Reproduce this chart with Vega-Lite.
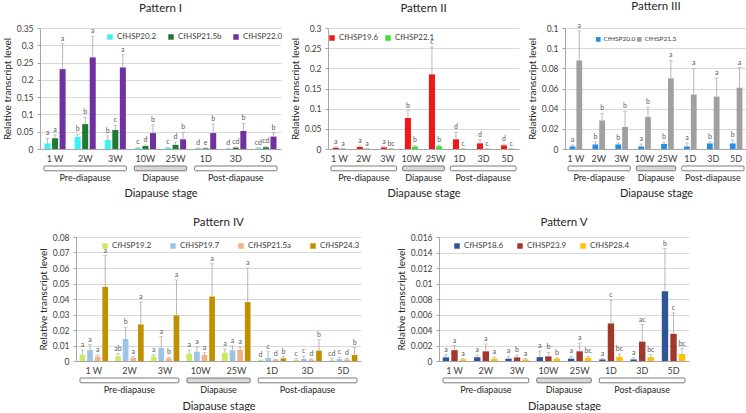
{
"$schema": "https://vega.github.io/schema/vega-lite/v6.json",
"background": "white",
"padding": {"left": 2, "top": 0, "right": 0, "bottom": 0},
"config": {
 "font": "Lato",
 "view": {"stroke": null},
 "axis": {"labelColor": "#404040", "titleColor": "#262626", "labelFont": "Lato", "titleFont": "Lato", "titleFontWeight": "normal", "labelFontSize": 8.5, "titleFontSize": 10},
 "axisY": {"labelOverlap": false},
 "title": {"font": "Lato", "fontWeight": "normal", "fontSize": 11.5, "color": "#262626", "offset": 7},
 "legend": {"labelFont": "Lato", "labelColor": "#404040", "labelFontSize": 8}
},
"columns": 1,
"align": "none",
"spacing": 18,
"resolve": {"scale": {"color": "independent", "xOffset": "independent", "x": "independent", "y": "independent"}, "legend": {"color": "independent"}},
"datasets": {
 "periods": [
  {"period": "Pre-diapause", "start": 0, "end": 3, "center": 1.5},
  {"period": "Diapause", "start": 3, "end": 5, "center": 4},
  {"period": "Post-diapause", "start": 5, "end": 8, "center": 6.5}
 ],
 "hsp": [
  {"pattern": "I", "stage": "1 W", "gene": "CfHSP20.2", "value": 0.016, "upper": 0.031, "letter": "a"},
  {"pattern": "I", "stage": "1 W", "gene": "CfHSP21.5b", "value": 0.031, "upper": 0.041, "letter": "a"},
  {"pattern": "I", "stage": "1 W", "gene": "CfHSP22.0", "value": 0.231, "upper": 0.305, "letter": "a"},
  {"pattern": "I", "stage": "2W", "gene": "CfHSP20.2", "value": 0.035, "upper": 0.042, "letter": "b"},
  {"pattern": "I", "stage": "2W", "gene": "CfHSP21.5b", "value": 0.072, "upper": 0.092, "letter": "b"},
  {"pattern": "I", "stage": "2W", "gene": "CfHSP22.0", "value": 0.265, "upper": 0.326, "letter": "a"},
  {"pattern": "I", "stage": "3W", "gene": "CfHSP20.2", "value": 0.026, "upper": 0.038, "letter": "b"},
  {"pattern": "I", "stage": "3W", "gene": "CfHSP21.5b", "value": 0.055, "upper": 0.068, "letter": "c"},
  {"pattern": "I", "stage": "3W", "gene": "CfHSP22.0", "value": 0.236, "upper": 0.273, "letter": "a"},
  {"pattern": "I", "stage": "10W", "gene": "CfHSP20.2", "value": 0.003, "upper": 0.005, "letter": "c"},
  {"pattern": "I", "stage": "10W", "gene": "CfHSP21.5b", "value": 0.0087, "upper": 0.012, "letter": "d"},
  {"pattern": "I", "stage": "10W", "gene": "CfHSP22.0", "value": 0.046, "upper": 0.07, "letter": "b"},
  {"pattern": "I", "stage": "25W", "gene": "CfHSP20.2", "value": 0.003, "upper": 0.005, "letter": "c"},
  {"pattern": "I", "stage": "25W", "gene": "CfHSP21.5b", "value": 0.012, "upper": 0.02, "letter": "d"},
  {"pattern": "I", "stage": "25W", "gene": "CfHSP22.0", "value": 0.028, "upper": 0.049, "letter": "b"},
  {"pattern": "I", "stage": "1D", "gene": "CfHSP20.2", "value": 0.002, "upper": 0.003, "letter": "d"},
  {"pattern": "I", "stage": "1D", "gene": "CfHSP21.5b", "value": 0.002, "upper": 0.003, "letter": "e"},
  {"pattern": "I", "stage": "1D", "gene": "CfHSP22.0", "value": 0.046, "upper": 0.072, "letter": "b"},
  {"pattern": "I", "stage": "3D", "gene": "CfHSP20.2", "value": 0.001, "upper": 0.002, "letter": "d"},
  {"pattern": "I", "stage": "3D", "gene": "CfHSP21.5b", "value": 0.004, "upper": 0.006, "letter": "cd"},
  {"pattern": "I", "stage": "3D", "gene": "CfHSP22.0", "value": 0.052, "upper": 0.074, "letter": "b"},
  {"pattern": "I", "stage": "5D", "gene": "CfHSP20.2", "value": 0.002, "upper": 0.004, "letter": "cd"},
  {"pattern": "I", "stage": "5D", "gene": "CfHSP21.5b", "value": 0.005, "upper": 0.008, "letter": "cd"},
  {"pattern": "I", "stage": "5D", "gene": "CfHSP22.0", "value": 0.036, "upper": 0.047, "letter": "b"},

  {"pattern": "II", "stage": "1 W", "gene": "CfHSP19.6", "value": 0.003, "upper": 0.005, "letter": "a"},
  {"pattern": "II", "stage": "1 W", "gene": "CfHSP22.1", "value": 0.0008, "upper": 0.001, "letter": "a"},
  {"pattern": "II", "stage": "2W", "gene": "CfHSP19.6", "value": 0.005, "upper": 0.008, "letter": "a"},
  {"pattern": "II", "stage": "2W", "gene": "CfHSP22.1", "value": 0.0008, "upper": 0.001, "letter": "a"},
  {"pattern": "II", "stage": "3W", "gene": "CfHSP19.6", "value": 0.004, "upper": 0.006, "letter": "a"},
  {"pattern": "II", "stage": "3W", "gene": "CfHSP22.1", "value": 0.0008, "upper": 0.001, "letter": "bc"},
  {"pattern": "II", "stage": "10W", "gene": "CfHSP19.6", "value": 0.077, "upper": 0.095, "letter": "b"},
  {"pattern": "II", "stage": "10W", "gene": "CfHSP22.1", "value": 0.006, "upper": 0.009, "letter": "b"},
  {"pattern": "II", "stage": "25W", "gene": "CfHSP19.6", "value": 0.185, "upper": 0.253, "letter": "c"},
  {"pattern": "II", "stage": "25W", "gene": "CfHSP22.1", "value": 0.007, "upper": 0.01, "letter": "b"},
  {"pattern": "II", "stage": "1D", "gene": "CfHSP19.6", "value": 0.024, "upper": 0.041, "letter": "d"},
  {"pattern": "II", "stage": "1D", "gene": "CfHSP22.1", "value": 0.0005, "upper": 0.0008, "letter": "c"},
  {"pattern": "II", "stage": "3D", "gene": "CfHSP19.6", "value": 0.014, "upper": 0.023, "letter": "d"},
  {"pattern": "II", "stage": "3D", "gene": "CfHSP22.1", "value": 0.0005, "upper": 0.0008, "letter": "c"},
  {"pattern": "II", "stage": "5D", "gene": "CfHSP19.6", "value": 0.009, "upper": 0.012, "letter": "d"},
  {"pattern": "II", "stage": "5D", "gene": "CfHSP22.1", "value": 0.0005, "upper": 0.0008, "letter": "c"},

  {"pattern": "III", "stage": "1 W", "gene": "CfHSP20.0", "value": 0.0026, "upper": 0.004, "letter": "a"},
  {"pattern": "III", "stage": "1 W", "gene": "CfHSP21.3", "value": 0.0878, "upper": 0.117, "letter": "a"},
  {"pattern": "III", "stage": "2W", "gene": "CfHSP20.0", "value": 0.0045, "upper": 0.007, "letter": "b"},
  {"pattern": "III", "stage": "2W", "gene": "CfHSP21.3", "value": 0.0283, "upper": 0.0354, "letter": "b"},
  {"pattern": "III", "stage": "3W", "gene": "CfHSP20.0", "value": 0.0045, "upper": 0.006, "letter": "b"},
  {"pattern": "III", "stage": "3W", "gene": "CfHSP21.3", "value": 0.0219, "upper": 0.0373, "letter": "b"},
  {"pattern": "III", "stage": "10W", "gene": "CfHSP20.0", "value": 0.0025, "upper": 0.005, "letter": "a"},
  {"pattern": "III", "stage": "10W", "gene": "CfHSP21.3", "value": 0.0318, "upper": 0.0415, "letter": "b"},
  {"pattern": "III", "stage": "25W", "gene": "CfHSP20.0", "value": 0.005, "upper": 0.007, "letter": "b"},
  {"pattern": "III", "stage": "25W", "gene": "CfHSP21.3", "value": 0.0701, "upper": 0.0878, "letter": "a"},
  {"pattern": "III", "stage": "1D", "gene": "CfHSP20.0", "value": 0.0025, "upper": 0.006, "letter": "a"},
  {"pattern": "III", "stage": "1D", "gene": "CfHSP21.3", "value": 0.054, "upper": 0.08, "letter": "a"},
  {"pattern": "III", "stage": "3D", "gene": "CfHSP20.0", "value": 0.0055, "upper": 0.007, "letter": "b"},
  {"pattern": "III", "stage": "3D", "gene": "CfHSP21.3", "value": 0.052, "upper": 0.0705, "letter": "a"},
  {"pattern": "III", "stage": "5D", "gene": "CfHSP20.0", "value": 0.0055, "upper": 0.009, "letter": "b"},
  {"pattern": "III", "stage": "5D", "gene": "CfHSP21.3", "value": 0.0608, "upper": 0.0807, "letter": "a"},

  {"pattern": "IV", "stage": "1 W", "gene": "CfHSP19.2", "value": 0.0041, "upper": 0.0071, "letter": "a"},
  {"pattern": "IV", "stage": "1 W", "gene": "CfHSP19.7", "value": 0.0071, "upper": 0.0105, "letter": "a"},
  {"pattern": "IV", "stage": "1 W", "gene": "CfHSP21.5a", "value": 0.0028, "upper": 0.0039, "letter": "a"},
  {"pattern": "IV", "stage": "1 W", "gene": "CfHSP24.3", "value": 0.0478, "upper": 0.068, "letter": "a"},
  {"pattern": "IV", "stage": "2W", "gene": "CfHSP19.2", "value": 0.003, "upper": 0.0047, "letter": "ab"},
  {"pattern": "IV", "stage": "2W", "gene": "CfHSP19.7", "value": 0.0142, "upper": 0.0217, "letter": "b"},
  {"pattern": "IV", "stage": "2W", "gene": "CfHSP21.5a", "value": 0.002, "upper": 0.0028, "letter": "a"},
  {"pattern": "IV", "stage": "2W", "gene": "CfHSP24.3", "value": 0.0236, "upper": 0.038, "letter": "a"},
  {"pattern": "IV", "stage": "3W", "gene": "CfHSP19.2", "value": 0.0028, "upper": 0.004, "letter": "a"},
  {"pattern": "IV", "stage": "3W", "gene": "CfHSP19.7", "value": 0.0084, "upper": 0.0157, "letter": "a"},
  {"pattern": "IV", "stage": "3W", "gene": "CfHSP21.5a", "value": 0.0017, "upper": 0.0024, "letter": "b"},
  {"pattern": "IV", "stage": "3W", "gene": "CfHSP24.3", "value": 0.0294, "upper": 0.0523, "letter": "a"},
  {"pattern": "IV", "stage": "10W", "gene": "CfHSP19.2", "value": 0.0047, "upper": 0.0071, "letter": "a"},
  {"pattern": "IV", "stage": "10W", "gene": "CfHSP19.7", "value": 0.006, "upper": 0.009, "letter": "a"},
  {"pattern": "IV", "stage": "10W", "gene": "CfHSP21.5a", "value": 0.0039, "upper": 0.0054, "letter": "a"},
  {"pattern": "IV", "stage": "10W", "gene": "CfHSP24.3", "value": 0.0416, "upper": 0.0627, "letter": "a"},
  {"pattern": "IV", "stage": "25W", "gene": "CfHSP19.2", "value": 0.0054, "upper": 0.0077, "letter": "a"},
  {"pattern": "IV", "stage": "25W", "gene": "CfHSP19.7", "value": 0.0069, "upper": 0.0097, "letter": "a"},
  {"pattern": "IV", "stage": "25W", "gene": "CfHSP21.5a", "value": 0.0071, "upper": 0.009, "letter": "a"},
  {"pattern": "IV", "stage": "25W", "gene": "CfHSP24.3", "value": 0.038, "upper": 0.06, "letter": "a"},
  {"pattern": "IV", "stage": "1D", "gene": "CfHSP19.2", "value": 0.0003, "upper": 0.0005, "letter": "d"},
  {"pattern": "IV", "stage": "1D", "gene": "CfHSP19.7", "value": 0.0019, "upper": 0.006, "letter": "c"},
  {"pattern": "IV", "stage": "1D", "gene": "CfHSP21.5a", "value": 0.0008, "upper": 0.001, "letter": "d"},
  {"pattern": "IV", "stage": "1D", "gene": "CfHSP24.3", "value": 0.0017, "upper": 0.0028, "letter": "b"},
  {"pattern": "IV", "stage": "3D", "gene": "CfHSP19.2", "value": 0.0006, "upper": 0.0015, "letter": "c"},
  {"pattern": "IV", "stage": "3D", "gene": "CfHSP19.7", "value": 0.0013, "upper": 0.003, "letter": "c"},
  {"pattern": "IV", "stage": "3D", "gene": "CfHSP21.5a", "value": 0.0008, "upper": 0.0013, "letter": "d"},
  {"pattern": "IV", "stage": "3D", "gene": "CfHSP24.3", "value": 0.0067, "upper": 0.0137, "letter": "b"},
  {"pattern": "IV", "stage": "5D", "gene": "CfHSP19.2", "value": 0.0005, "upper": 0.0015, "letter": "cd"},
  {"pattern": "IV", "stage": "5D", "gene": "CfHSP19.7", "value": 0.0012, "upper": 0.0025, "letter": "c"},
  {"pattern": "IV", "stage": "5D", "gene": "CfHSP21.5a", "value": 0.001, "upper": 0.0018, "letter": "d"},
  {"pattern": "IV", "stage": "5D", "gene": "CfHSP24.3", "value": 0.0039, "upper": 0.0086, "letter": "b"},

  {"pattern": "V", "stage": "1 W", "gene": "CfHSP18.6", "value": 0.00047, "upper": 0.0008, "letter": "a"},
  {"pattern": "V", "stage": "1 W", "gene": "CfHSP23.9", "value": 0.0014, "upper": 0.002, "letter": "a"},
  {"pattern": "V", "stage": "1 W", "gene": "CfHSP28.4", "value": 0.0002, "upper": 0.0003, "letter": "a"},
  {"pattern": "V", "stage": "2W", "gene": "CfHSP18.6", "value": 0.0005, "upper": 0.00077, "letter": "a"},
  {"pattern": "V", "stage": "2W", "gene": "CfHSP23.9", "value": 0.00125, "upper": 0.0022, "letter": "a"},
  {"pattern": "V", "stage": "2W", "gene": "CfHSP28.4", "value": 0.0003, "upper": 0.0005, "letter": "a"},
  {"pattern": "V", "stage": "3W", "gene": "CfHSP18.6", "value": 0.0003, "upper": 0.0006, "letter": "a"},
  {"pattern": "V", "stage": "3W", "gene": "CfHSP23.9", "value": 0.00047, "upper": 0.00077, "letter": "b"},
  {"pattern": "V", "stage": "3W", "gene": "CfHSP28.4", "value": 0.0002, "upper": 0.0003, "letter": "a"},
  {"pattern": "V", "stage": "10W", "gene": "CfHSP18.6", "value": 0.0005, "upper": 0.0013, "letter": "a"},
  {"pattern": "V", "stage": "10W", "gene": "CfHSP23.9", "value": 0.0006, "upper": 0.0011, "letter": "b"},
  {"pattern": "V", "stage": "10W", "gene": "CfHSP28.4", "value": 0.0003, "upper": 0.0004, "letter": "b"},
  {"pattern": "V", "stage": "25W", "gene": "CfHSP18.6", "value": 0.0003, "upper": 0.0006, "letter": "a"},
  {"pattern": "V", "stage": "25W", "gene": "CfHSP23.9", "value": 0.00125, "upper": 0.0023, "letter": "a"},
  {"pattern": "V", "stage": "25W", "gene": "CfHSP28.4", "value": 0.0004, "upper": 0.0006, "letter": "bc"},
  {"pattern": "V", "stage": "1D", "gene": "CfHSP18.6", "value": 0.0002, "upper": 0.0003, "letter": "a"},
  {"pattern": "V", "stage": "1D", "gene": "CfHSP23.9", "value": 0.00485, "upper": 0.00785, "letter": "c"},
  {"pattern": "V", "stage": "1D", "gene": "CfHSP28.4", "value": 0.00056, "upper": 0.0009, "letter": "bc"},
  {"pattern": "V", "stage": "3D", "gene": "CfHSP18.6", "value": 0.0002, "upper": 0.0004, "letter": "a"},
  {"pattern": "V", "stage": "3D", "gene": "CfHSP23.9", "value": 0.0025, "upper": 0.0047, "letter": "ac"},
  {"pattern": "V", "stage": "3D", "gene": "CfHSP28.4", "value": 0.0005, "upper": 0.0008, "letter": "bc"},
  {"pattern": "V", "stage": "5D", "gene": "CfHSP18.6", "value": 0.009, "upper": 0.0145, "letter": "b"},
  {"pattern": "V", "stage": "5D", "gene": "CfHSP23.9", "value": 0.0035, "upper": 0.0062, "letter": "c"},
  {"pattern": "V", "stage": "5D", "gene": "CfHSP28.4", "value": 0.0009, "upper": 0.0016, "letter": "bc"}
 ]
},
"concat": [
 {
  "spacing": 7,
  "resolve": {"scale": {"color": "independent", "xOffset": "independent", "x": "independent", "y": "independent"}, "legend": {"color": "independent"}},
  "hconcat": [
   {
    "spacing": 2,
    "resolve": {"scale": {"x": "independent", "y": "independent"}},
    "vconcat": [
     {
      "width": 241, "height": 121,
      "title": {"text": "Pattern I", "offset": 10},
      "data": {"name": "hsp"},
      "transform": [{"filter": "datum.pattern === 'I'"}],
      "encoding": {
       "x": {"field": "stage", "type": "nominal", "sort": ["1 W","2W","3W","10W","25W","1D","3D","5D"], "scale": {"paddingInner": 0.3, "paddingOuter": 0.15}, "axis": {"title": null, "labelAngle": 0, "ticks": false, "domainColor": "#A6A6A6", "labelPadding": 5, "labelFontSize": 9}},
       "xOffset": {"field": "gene", "type": "nominal", "sort": ["CfHSP20.2","CfHSP21.5b","CfHSP22.0"], "scale": {"paddingInner": 0.2}}
      },
      "layer": [
       {"mark": {"type": "bar"}, "encoding": {
         "y": {"field": "value", "type": "quantitative", "scale": {"domain": [0, 0.35], "nice": false}, "axis": {"title": "Relative transcript level", "values": [0,0.05,0.1,0.15,0.2,0.25,0.3,0.35], "format": "~g", "labelOverlap": false, "tickSize": 3, "tickColor": "#A6A6A6", "domainColor": "#A6A6A6", "gridColor": "#D9D9D9", "labelPadding": 4, "titlePadding": 4}},
         "color": {"field": "gene", "type": "nominal", "scale": {"domain": ["CfHSP20.2","CfHSP21.5b","CfHSP22.0"], "range": ["#3DF2F2","#1E7B34","#7030A0"]}, "legend": {"orient": "none", "legendX": 66, "legendY": 5, "direction": "horizontal", "title": null, "symbolType": "square", "symbolSize": 30, "symbolStrokeWidth": 0, "columnPadding": 10, "labelOffset": 3}}}},
       {"mark": {"type": "rule", "color": "#A6A6A6", "strokeWidth": 0.8}, "encoding": {"y": {"field": "value", "type": "quantitative", "axis": {"title": "Relative transcript level", "values": [0,0.05,0.1,0.15,0.2,0.25,0.3,0.35], "format": "~g", "labelOverlap": false}}, "y2": {"field": "upper"}}},
       {"mark": {"type": "tick", "color": "#A6A6A6", "thickness": 0.8, "size": 4}, "encoding": {"y": {"field": "upper", "type": "quantitative", "axis": {"title": "Relative transcript level", "values": [0,0.05,0.1,0.15,0.2,0.25,0.3,0.35], "format": "~g", "labelOverlap": false}}}},
       {"mark": {"type": "text", "dy": -2, "baseline": "bottom", "fontSize": 7, "fill": "#595959"}, "encoding": {"y": {"field": "upper", "type": "quantitative", "axis": {"title": "Relative transcript level", "values": [0,0.05,0.1,0.15,0.2,0.25,0.3,0.35], "format": "~g", "labelOverlap": false}}, "text": {"field": "letter"}}}
      ]
     },
     {
      "width": 241, "height": 16,
      "data": {"name": "periods"},
      "layer": [
       {"mark": {"type": "rect", "xOffset": 4, "x2Offset": -4, "stroke": "#595959", "strokeWidth": 0.8, "cornerRadius": 1}, "encoding": {
         "x": {"field": "start", "type": "quantitative", "scale": {"domain": [0, 8], "nice": false, "zero": false}, "axis": {"title": "Diapause stage", "labels": false, "ticks": false, "domain": false, "grid": false, "titlePadding": 5, "titleFontSize": 11}},
         "x2": {"field": "end"},
         "y": {"datum": 1, "type": "quantitative", "scale": {"domain": [0, 1]}, "axis": null}, "y2": {"datum": 0.7}, "fill": {"field": "period", "type": "nominal", "scale": {"domain": ["Pre-diapause","Diapause","Post-diapause"], "range": ["#FFFFFF","#D9D9D9","#FFFFFF"]}, "legend": null}}},
       {"mark": {"type": "text", "fontSize": 9, "color": "#262626"}, "encoding": {"x": {"field": "center", "type": "quantitative"}, "y": {"datum": 0.25, "type": "quantitative"}, "text": {"field": "period"}}}
      ]
     }
    ]
   },
   {
    "spacing": 8,
    "resolve": {"scale": {"color": "independent", "xOffset": "independent", "x": "independent", "y": "independent"}, "legend": {"color": "independent"}},
    "hconcat": [
     {
      "spacing": 2,
      "resolve": {"scale": {"x": "independent", "y": "independent"}},
      "vconcat": [
       {
        "width": 191, "height": 121,
        "title": {"text": "Pattern II", "offset": 10},
        "data": {"name": "hsp"},
        "transform": [{"filter": "datum.pattern === 'II'"}],
        "encoding": {
         "x": {"field": "stage", "type": "nominal", "sort": ["1 W","2W","3W","10W","25W","1D","3D","5D"], "scale": {"paddingInner": 0.45, "paddingOuter": 0.2}, "axis": {"title": null, "labelAngle": 0, "ticks": false, "domainColor": "#A6A6A6", "labelPadding": 5, "labelFontSize": 9}},
         "xOffset": {"field": "gene", "type": "nominal", "sort": ["CfHSP19.6","CfHSP22.1"], "scale": {"paddingInner": 0.15}}
        },
        "layer": [
         {"mark": {"type": "bar"}, "encoding": {
           "y": {"field": "value", "type": "quantitative", "scale": {"domain": [0, 0.3], "nice": false}, "axis": {"title": "Relative transcript level", "values": [0,0.05,0.1,0.15,0.2,0.25,0.3], "format": "~g", "labelOverlap": false, "tickSize": 3, "tickColor": "#A6A6A6", "domainColor": "#A6A6A6", "gridColor": "#D9D9D9", "labelPadding": 4, "titlePadding": 4}},
           "color": {"field": "gene", "type": "nominal", "scale": {"domain": ["CfHSP19.6","CfHSP22.1"], "range": ["#F01818","#33E633"]}, "legend": {"orient": "none", "legendX": 0, "legendY": 6, "direction": "horizontal", "title": null, "symbolType": "square", "symbolSize": 30, "symbolStrokeWidth": 0, "columnPadding": 5, "labelOffset": 3}}}},
         {"mark": {"type": "rule", "color": "#A6A6A6", "strokeWidth": 0.8}, "encoding": {"y": {"field": "value", "type": "quantitative", "axis": {"title": "Relative transcript level", "values": [0,0.05,0.1,0.15,0.2,0.25,0.3], "format": "~g", "labelOverlap": false}}, "y2": {"field": "upper"}}},
         {"mark": {"type": "tick", "color": "#A6A6A6", "thickness": 0.8, "size": 4}, "encoding": {"y": {"field": "upper", "type": "quantitative", "axis": {"title": "Relative transcript level", "values": [0,0.05,0.1,0.15,0.2,0.25,0.3], "format": "~g", "labelOverlap": false}}}},
         {"mark": {"type": "text", "dy": -2, "baseline": "bottom", "fontSize": 7, "fill": "#595959"}, "encoding": {"y": {"field": "upper", "type": "quantitative", "axis": {"title": "Relative transcript level", "values": [0,0.05,0.1,0.15,0.2,0.25,0.3], "format": "~g", "labelOverlap": false}}, "text": {"field": "letter"}}}
        ]
       },
       {
        "width": 191, "height": 16,
        "data": {"name": "periods"},
        "layer": [
         {"mark": {"type": "rect", "xOffset": 3, "x2Offset": -3, "stroke": "#595959", "strokeWidth": 0.8, "cornerRadius": 1}, "encoding": {
           "x": {"field": "start", "type": "quantitative", "scale": {"domain": [0, 8], "nice": false, "zero": false}, "axis": {"title": "Diapause stage", "labels": false, "ticks": false, "domain": false, "grid": false, "titlePadding": 5, "titleFontSize": 11}},
           "x2": {"field": "end"},
           "y": {"datum": 1, "type": "quantitative", "scale": {"domain": [0, 1]}, "axis": null}, "y2": {"datum": 0.7}, "fill": {"field": "period", "type": "nominal", "scale": {"domain": ["Pre-diapause","Diapause","Post-diapause"], "range": ["#FFFFFF","#D9D9D9","#FFFFFF"]}, "legend": null}}},
         {"mark": {"type": "text", "fontSize": 9, "color": "#262626"}, "encoding": {"x": {"field": "center", "type": "quantitative"}, "y": {"datum": 0.25, "type": "quantitative"}, "text": {"field": "period"}}}
        ]
       }
      ]
     },
     {
      "spacing": 2,
      "resolve": {"scale": {"x": "independent", "y": "independent"}},
      "vconcat": [
       {
        "width": 182, "height": 121,
        "title": {"text": "Pattern III", "offset": 10},
        "data": {"name": "hsp"},
        "transform": [{"filter": "datum.pattern === 'III'"}],
        "encoding": {
         "x": {"field": "stage", "type": "nominal", "sort": ["1 W","2W","3W","10W","25W","1D","3D","5D"], "scale": {"paddingInner": 0.45, "paddingOuter": 0.2}, "axis": {"title": null, "labelAngle": 0, "ticks": false, "domainColor": "#A6A6A6", "labelPadding": 5, "labelFontSize": 9}},
         "xOffset": {"field": "gene", "type": "nominal", "sort": ["CfHSP20.0","CfHSP21.3"], "scale": {"paddingInner": 0.15}}
        },
        "layer": [
         {"mark": {"type": "bar"}, "encoding": {
           "y": {"field": "value", "type": "quantitative", "scale": {"domain": [0, 0.12], "nice": false}, "axis": {"title": "Relative transcript level", "values": [0,0.02,0.04,0.06,0.08,0.1,0.12], "format": "~g", "labelOverlap": false, "tickSize": 3, "tickColor": "#A6A6A6", "domainColor": "#A6A6A6", "gridColor": "#D9D9D9", "labelPadding": 4, "titlePadding": 4}},
           "color": {"field": "gene", "type": "nominal", "scale": {"domain": ["CfHSP20.0","CfHSP21.3"], "range": ["#2090E8","#A0A0A0"]}, "legend": {"orient": "none", "legendX": 30, "legendY": 8, "direction": "horizontal", "title": null, "symbolType": "square", "symbolSize": 22, "symbolStrokeWidth": 0, "columnPadding": 0, "labelOffset": 2, "labelFontSize": 6.5}}}},
         {"mark": {"type": "rule", "color": "#A6A6A6", "strokeWidth": 0.8}, "encoding": {"y": {"field": "value", "type": "quantitative", "axis": {"title": "Relative transcript level", "values": [0,0.02,0.04,0.06,0.08,0.1,0.12], "format": "~g", "labelOverlap": false}}, "y2": {"field": "upper"}}},
         {"mark": {"type": "tick", "color": "#A6A6A6", "thickness": 0.8, "size": 4}, "encoding": {"y": {"field": "upper", "type": "quantitative", "axis": {"title": "Relative transcript level", "values": [0,0.02,0.04,0.06,0.08,0.1,0.12], "format": "~g", "labelOverlap": false}}}},
         {"mark": {"type": "text", "dy": -2, "baseline": "bottom", "fontSize": 7, "fill": "#595959"}, "encoding": {"y": {"field": "upper", "type": "quantitative", "axis": {"title": "Relative transcript level", "values": [0,0.02,0.04,0.06,0.08,0.1,0.12], "format": "~g", "labelOverlap": false}}, "text": {"field": "letter"}}}
        ]
       },
       {
        "width": 182, "height": 16,
        "data": {"name": "periods"},
        "layer": [
         {"mark": {"type": "rect", "xOffset": 3, "x2Offset": -3, "stroke": "#595959", "strokeWidth": 0.8, "cornerRadius": 1}, "encoding": {
           "x": {"field": "start", "type": "quantitative", "scale": {"domain": [0, 8], "nice": false, "zero": false}, "axis": {"title": "Diapause stage", "labels": false, "ticks": false, "domain": false, "grid": false, "titlePadding": 5, "titleFontSize": 11}},
           "x2": {"field": "end"},
           "y": {"datum": 1, "type": "quantitative", "scale": {"domain": [0, 1]}, "axis": null}, "y2": {"datum": 0.7}, "fill": {"field": "period", "type": "nominal", "scale": {"domain": ["Pre-diapause","Diapause","Post-diapause"], "range": ["#FFFFFF","#D9D9D9","#FFFFFF"]}, "legend": null}}},
         {"mark": {"type": "text", "fontSize": 9, "color": "#262626"}, "encoding": {"x": {"field": "center", "type": "quantitative"}, "y": {"datum": 0.25, "type": "quantitative"}, "text": {"field": "period"}}}
        ]
       }
      ]
     }
    ]
   }
  ]
 },
 {
  "spacing": -3,
  "resolve": {"scale": {"color": "independent", "xOffset": "independent", "x": "independent", "y": "independent"}, "legend": {"color": "independent"}},
  "hconcat": [
   {"width": 1, "height": 10, "data": {"values": [{"k": 1}]}, "mark": {"type": "point", "opacity": 0, "size": 1}, "encoding": {}},
   {
    "spacing": 35,
    "resolve": {"scale": {"color": "independent", "xOffset": "independent", "x": "independent", "y": "independent"}, "legend": {"color": "independent"}},
    "hconcat": [
     {
      "spacing": 2,
      "resolve": {"scale": {"x": "independent", "y": "independent"}},
      "vconcat": [
       {
        "width": 285, "height": 124,
        "title": {"text": "Pattern IV", "offset": 5},
        "data": {"name": "hsp"},
        "transform": [{"filter": "datum.pattern === 'IV'"}],
        "encoding": {
         "x": {"field": "stage", "type": "nominal", "sort": ["1 W","2W","3W","10W","25W","1D","3D","5D"], "scale": {"paddingInner": 0.2, "paddingOuter": 0.1}, "axis": {"title": null, "labelAngle": 0, "ticks": false, "domainColor": "#A6A6A6", "labelPadding": 5, "labelFontSize": 9}},
         "xOffset": {"field": "gene", "type": "nominal", "sort": ["CfHSP19.2","CfHSP19.7","CfHSP21.5a","CfHSP24.3"], "scale": {"paddingInner": 0.25}}
        },
        "layer": [
         {"mark": {"type": "bar"}, "encoding": {
           "y": {"field": "value", "type": "quantitative", "scale": {"domain": [0, 0.08], "nice": false}, "axis": {"title": "Relative transcript level", "values": [0,0.01,0.02,0.03,0.04,0.05,0.06,0.07,0.08], "format": "~g", "labelOverlap": false, "tickSize": 3, "tickColor": "#A6A6A6", "domainColor": "#A6A6A6", "gridColor": "#D9D9D9", "labelPadding": 4, "titlePadding": 4}},
           "color": {"field": "gene", "type": "nominal", "scale": {"domain": ["CfHSP19.2","CfHSP19.7","CfHSP21.5a","CfHSP24.3"], "range": ["#C8EC5C","#9DC3E6","#F4B183","#BF9000"]}, "legend": {"orient": "none", "legendX": 25, "legendY": 5, "direction": "horizontal", "title": null, "symbolType": "square", "symbolSize": 30, "symbolStrokeWidth": 0, "columnPadding": 17, "labelOffset": 3}}}},
         {"mark": {"type": "rule", "color": "#A6A6A6", "strokeWidth": 0.8}, "encoding": {"y": {"field": "value", "type": "quantitative", "axis": {"title": "Relative transcript level", "values": [0,0.01,0.02,0.03,0.04,0.05,0.06,0.07,0.08], "format": "~g", "labelOverlap": false}}, "y2": {"field": "upper"}}},
         {"mark": {"type": "tick", "color": "#A6A6A6", "thickness": 0.8, "size": 4}, "encoding": {"y": {"field": "upper", "type": "quantitative", "axis": {"title": "Relative transcript level", "values": [0,0.01,0.02,0.03,0.04,0.05,0.06,0.07,0.08], "format": "~g", "labelOverlap": false}}}},
         {"mark": {"type": "text", "dy": -2, "baseline": "bottom", "fontSize": 7, "fill": "#595959"}, "encoding": {"y": {"field": "upper", "type": "quantitative", "axis": {"title": "Relative transcript level", "values": [0,0.01,0.02,0.03,0.04,0.05,0.06,0.07,0.08], "format": "~g", "labelOverlap": false}}, "text": {"field": "letter"}}}
        ]
       },
       {
        "width": 285, "height": 16,
        "data": {"name": "periods"},
        "layer": [
         {"mark": {"type": "rect", "xOffset": 4, "x2Offset": -4, "stroke": "#595959", "strokeWidth": 0.8, "cornerRadius": 1}, "encoding": {
           "x": {"field": "start", "type": "quantitative", "scale": {"domain": [0, 8], "nice": false, "zero": false}, "axis": {"title": "Diapause stage", "labels": false, "ticks": false, "domain": false, "grid": false, "titlePadding": 6, "titleFontSize": 11}},
           "x2": {"field": "end"},
           "y": {"datum": 1, "type": "quantitative", "scale": {"domain": [0, 1]}, "axis": null}, "y2": {"datum": 0.7}, "fill": {"field": "period", "type": "nominal", "scale": {"domain": ["Pre-diapause","Diapause","Post-diapause"], "range": ["#FFFFFF","#D9D9D9","#FFFFFF"]}, "legend": null}}},
         {"mark": {"type": "text", "fontSize": 9, "color": "#262626"}, "encoding": {"x": {"field": "center", "type": "quantitative"}, "y": {"datum": 0.25, "type": "quantitative"}, "text": {"field": "period"}}}
        ]
       }
      ]
     },
     {
      "spacing": 2,
      "resolve": {"scale": {"x": "independent", "y": "independent"}},
      "vconcat": [
       {
        "width": 250, "height": 124,
        "title": {"text": "Pattern V", "offset": 5},
        "data": {"name": "hsp"},
        "transform": [{"filter": "datum.pattern === 'V'"}],
        "encoding": {
         "x": {"field": "stage", "type": "nominal", "sort": ["1 W","2W","3W","10W","25W","1D","3D","5D"], "scale": {"paddingInner": 0.25, "paddingOuter": 0.12}, "axis": {"title": null, "labelAngle": 0, "ticks": false, "domainColor": "#A6A6A6", "labelPadding": 5, "labelFontSize": 9}},
         "xOffset": {"field": "gene", "type": "nominal", "sort": ["CfHSP18.6","CfHSP23.9","CfHSP28.4"], "scale": {"paddingInner": 0.25}}
        },
        "layer": [
         {"mark": {"type": "bar"}, "encoding": {
           "y": {"field": "value", "type": "quantitative", "scale": {"domain": [0, 0.016], "nice": false}, "axis": {"title": "Relative transcript level", "values": [0,0.002,0.004,0.006,0.008,0.01,0.012,0.014,0.016], "format": "~g", "labelOverlap": false, "tickSize": 3, "tickColor": "#A6A6A6", "domainColor": "#A6A6A6", "gridColor": "#D9D9D9", "labelPadding": 4, "titlePadding": 4}},
           "color": {"field": "gene", "type": "nominal", "scale": {"domain": ["CfHSP18.6","CfHSP23.9","CfHSP28.4"], "range": ["#2F5597","#A0392B","#FFC000"]}, "legend": {"orient": "none", "legendX": 14, "legendY": 5, "direction": "horizontal", "title": null, "symbolType": "square", "symbolSize": 30, "symbolStrokeWidth": 0, "columnPadding": 12, "labelOffset": 3}}}},
         {"mark": {"type": "rule", "color": "#A6A6A6", "strokeWidth": 0.8}, "encoding": {"y": {"field": "value", "type": "quantitative", "axis": {"title": "Relative transcript level", "values": [0,0.002,0.004,0.006,0.008,0.01,0.012,0.014,0.016], "format": "~g", "labelOverlap": false}}, "y2": {"field": "upper"}}},
         {"mark": {"type": "tick", "color": "#A6A6A6", "thickness": 0.8, "size": 4}, "encoding": {"y": {"field": "upper", "type": "quantitative", "axis": {"title": "Relative transcript level", "values": [0,0.002,0.004,0.006,0.008,0.01,0.012,0.014,0.016], "format": "~g", "labelOverlap": false}}}},
         {"mark": {"type": "text", "dy": -2, "baseline": "bottom", "fontSize": 7, "fill": "#595959"}, "encoding": {"y": {"field": "upper", "type": "quantitative", "axis": {"title": "Relative transcript level", "values": [0,0.002,0.004,0.006,0.008,0.01,0.012,0.014,0.016], "format": "~g", "labelOverlap": false}}, "text": {"field": "letter"}}}
        ]
       },
       {
        "width": 250, "height": 16,
        "data": {"name": "periods"},
        "layer": [
         {"mark": {"type": "rect", "xOffset": 4, "x2Offset": -4, "stroke": "#595959", "strokeWidth": 0.8, "cornerRadius": 1}, "encoding": {
           "x": {"field": "start", "type": "quantitative", "scale": {"domain": [0, 8], "nice": false, "zero": false}, "axis": {"title": "Diapause stage", "labels": false, "ticks": false, "domain": false, "grid": false, "titlePadding": 6, "titleFontSize": 11}},
           "x2": {"field": "end"},
           "y": {"datum": 1, "type": "quantitative", "scale": {"domain": [0, 1]}, "axis": null}, "y2": {"datum": 0.7}, "fill": {"field": "period", "type": "nominal", "scale": {"domain": ["Pre-diapause","Diapause","Post-diapause"], "range": ["#FFFFFF","#D9D9D9","#FFFFFF"]}, "legend": null}}},
         {"mark": {"type": "text", "fontSize": 9, "color": "#262626"}, "encoding": {"x": {"field": "center", "type": "quantitative"}, "y": {"datum": 0.25, "type": "quantitative"}, "text": {"field": "period"}}}
        ]
       }
      ]
     }
    ]
   }
  ]
 }
]
}
